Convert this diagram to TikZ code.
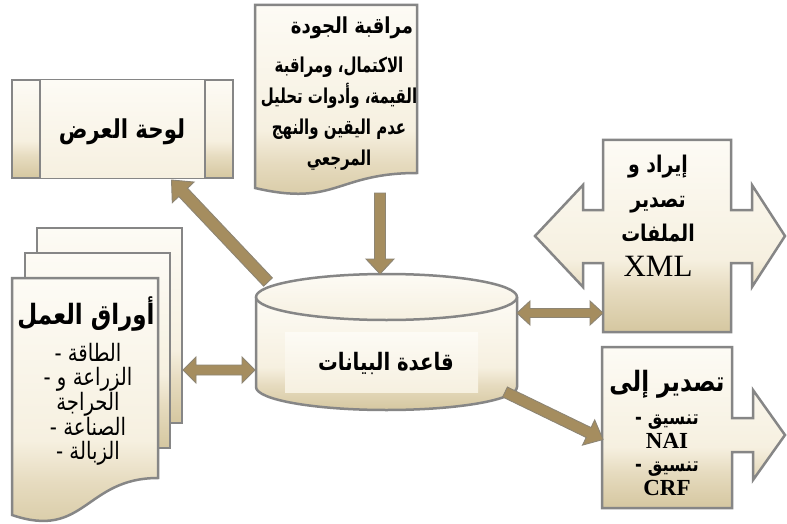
\documentclass[tikz,border=0pt]{standalone}
\usepackage{fontspec}
\usetikzlibrary{calc}
\TeXXeTstate=1
\newfontfamily\arab[Script=Arabic,FakeStretch=0.82]{DejaVu Sans}
\newfontfamily\arabc[Script=Arabic,FakeStretch=0.73]{DejaVu Sans}
\newfontfamily\tnr{Liberation Serif}
\newcommand\RL[1]{\beginR #1\endR}
\newcommand\dsh{\mbox{-}\ }
\definecolor{bordergray}{HTML}{868686}
\definecolor{creamtop}{HTML}{FDFBF5}
\definecolor{creamlight}{HTML}{F6F0E0}
\definecolor{beigemid}{HTML}{E6DBBF}
\definecolor{beigebot}{HTML}{D5C7A0}
\definecolor{arrowtan}{HTML}{A58D5F}
\definecolor{arrowedge}{HTML}{8D8574}
\pgfdeclareverticalshading{docshade}{100bp}{color(0bp)=(beigebot); color(25bp)=(beigebot); color(36bp)=(beigemid); color(44bp)=(creamlight); color(75bp)=(creamtop); color(100bp)=(creamtop)}
\pgfdeclareverticalshading{lightshade}{100bp}{color(0bp)=(creamlight); color(25bp)=(creamlight); color(75bp)=(creamtop); color(100bp)=(creamtop)}
\tikzset{
  docstyle/.style={draw=bordergray, line width=2.5pt, line join=miter, shading=docshade},
  arrowstyle/.style={fill=arrowtan, draw=arrowedge, line width=0.9pt, line join=miter},
  ghost/.style={inner sep=0pt, outer sep=0pt, draw=none},
  boldar/.style={font={\arab\bfseries\fontsize{#1}{#1}\selectfont}, inner sep=0pt, align=center},
}
% single block arrow: start, end, half shaft, half head, head length
\newcommand\sarrow[5]{%
  \coordinate (hh) at ($(#2)!#5!(#1)$);
  \path[arrowstyle] ($(#1)!#3!90:(#2)$) -- ($(hh)!#3!-90:(#1)$) -- ($(hh)!#4!-90:(#1)$) -- (#2) -- ($(hh)!#4!90:(#1)$) -- ($(hh)!#3!90:(#1)$) -- ($(#1)!#3!-90:(#2)$) -- cycle;}
% double block arrow
\newcommand\darrow[5]{%
  \coordinate (ha) at ($(#1)!#5!(#2)$);
  \coordinate (hb) at ($(#2)!#5!(#1)$);
  \path[arrowstyle] (#1) -- ($(ha)!#4!90:(#2)$) -- ($(ha)!#3!90:(#2)$) -- ($(hb)!#3!-90:(#1)$) -- ($(hb)!#4!-90:(#1)$) -- (#2) -- ($(hb)!#4!90:(#1)$) -- ($(hb)!#3!90:(#1)$) -- ($(ha)!#3!-90:(#2)$) -- ($(ha)!#4!-90:(#2)$) -- cycle;}
\begin{document}
\begin{tikzpicture}[x=1pt,y=-1pt]
\useasboundingbox (0,0) rectangle (787,524);
\fill[white] (0,0) rectangle (787,524);

% ---------- display panel ----------
\node[ghost, minimum width=221pt, minimum height=98pt] (panel) at (122.5,129) {};
\path[docstyle] (panel.north west) rectangle (panel.south east);
\path[shading=lightshade] ($(panel.north west)+(28,1)$) rectangle ($(panel.south east)+(-28,-1)$);
\draw[bordergray, line width=2.5pt] ($(panel.north west)+(28,0)$) -- ($(panel.south west)+(28,0)$);
\draw[bordergray, line width=2.5pt] ($(panel.north east)+(-28,0)$) -- ($(panel.south east)+(-28,0)$);
\node[boldar=26] (paneltext) at (122,132) {\RL{لوحة العرض}};

% ---------- quality document ----------
\node[ghost, minimum width=162pt, minimum height=188pt] (qdoc) at (336,99) {};
\path[docstyle] (255,5) -- (417,5) -- (417,173) .. controls (336,173) and (336,207) .. (255,188) -- cycle;
\node[boldar=22] (qtitle) at (352,28) {\RL{مراقبة الجودة}};
\node[inner sep=0pt, align=center, font={\arabc\bfseries\fontsize{20.5}{31}\selectfont}] (qbody) at (339,114)
  {\RL{الاكتمال، ومراقبة}\\ \RL{القيمة، وأدوات تحليل}\\ \RL{عدم اليقين والنهج}\\ المرجعي};

% ---------- worksheets ----------
\path[docstyle] (37,228) rectangle (182,423);
\path[docstyle] (25,253) rectangle (170,448);
\node[ghost, minimum width=146pt, minimum height=240pt] (ws) at (85,398) {};
\path[docstyle] (12,278) -- (158,278) -- (158,478) .. controls (85,478) and (85,540) .. (12,515) -- cycle;
\node[boldar=28] (wstitle) at (86,314) {\RL{أوراق العمل}};
\node[inner sep=0pt, align=center, font={\arab\fontsize{24}{24}\selectfont}] (wsbody) at (88,404)
  {\dsh الطاقة\\ \dsh\RL{الزراعة و}\\ الحراجة\\ \dsh الصناعة\\ \dsh الزبالة};

% ---------- database cylinder ----------
\node[ghost, minimum width=261pt, minimum height=137pt] (db) at (386.5,341.5) {};
\path[shading=docshade] (256,297) -- (256,387) .. controls (256,399.7) and (314.4,410) .. (386.5,410)
  .. controls (458.6,410) and (517,399.7) .. (517,387) -- (517,297) -- cycle;
\draw[bordergray, line width=2.5pt] (256,297) -- (256,387) .. controls (256,399.7) and (314.4,410) .. (386.5,410)
  .. controls (458.6,410) and (517,399.7) .. (517,387) -- (517,297);
\path[draw=bordergray, line width=2.5pt, shading=lightshade] (386.5,297) ellipse [x radius=130.5pt, y radius=23pt];
\node[ghost, minimum width=193pt, minimum height=60pt, shading=lightshade] (dblabel) at (381.5,362) {};
\node[boldar=24] (dbtext) at (386,363) {\RL{قاعدة البيانات}};

% ---------- XML import/export callout ----------
\path[docstyle] (603,140) -- (731,140) -- (731,210) -- (752,210) -- (752,185) -- (785,236) -- (752,287) -- (752,263)
  -- (731,263) -- (731,332) -- (603,332) -- (603,263) -- (583,263) -- (583,287) -- (535,236) -- (583,185)
  -- (583,210) -- (603,210) -- cycle;
\node[ghost, minimum width=128pt, minimum height=192pt] (xml) at (667,236) {};
\node[inner sep=0pt, align=center, font={\arab\bfseries\fontsize{23}{34.5}\selectfont}] (xmltext) at (658,216)
  {\RL{إيراد و}\\ تصدير\\ الملفات\\ {\tnr\mdseries\fontsize{31}{34.5}\selectfont XML}};

% ---------- export callout ----------
\path[docstyle] (602,347) -- (732,347) -- (732,418) -- (753,418) -- (753,390) -- (785,435) -- (753,480) -- (753,452)
  -- (732,452) -- (732,508) -- (602,508) -- cycle;
\node[ghost, minimum width=130pt, minimum height=161pt] (exp) at (667,427.5) {};
\node[boldar=28] (exptitle) at (667,384) {\RL{تصدير إلى}};
\node[inner sep=0pt, align=center, font={\arab\bfseries\fontsize{20}{23.5}\selectfont}] (expbody) at (667,455)
  {\dsh تنسيق\\ {\tnr\fontsize{23}{23.5}\selectfont NAI}\\ \dsh تنسيق\\ {\tnr\fontsize{23}{23.5}\selectfont CRF}};

% ---------- connectors ----------
\coordinate (qout) at ($(qdoc.south)+(44,0)$);
\coordinate (dbtop) at ($(db.north)+(-6.5,1)$);
\sarrow{qout}{dbtop}{5.5pt}{14pt}{15pt}

\coordinate (dbnw) at ($(db.north west)+(12,9)$);
\coordinate (panelin) at ($(panel.south)+(49,2)$);
\sarrow{dbnw}{panelin}{6pt}{15pt}{17pt}

\coordinate (wsout) at ($(ws.east)+(25,-28)$);
\coordinate (dbw) at ($(db.west)+(-1,28.5)$);
\darrow{wsout}{dbw}{5pt}{13pt}{13pt}

\coordinate (dbe) at ($(db.east)+(0,-28.5)$);
\coordinate (xmlw) at ($(xml.west)+(0,77)$);
\darrow{dbe}{xmlw}{4.5pt}{12pt}{13pt}

\coordinate (dbse) at ($(db.south east)+(-12,-18)$);
\coordinate (expw) at ($(exp.west)+(1,12)$);
\sarrow{dbse}{expw}{5.5pt}{14pt}{16pt}
\end{tikzpicture}
\end{document}
